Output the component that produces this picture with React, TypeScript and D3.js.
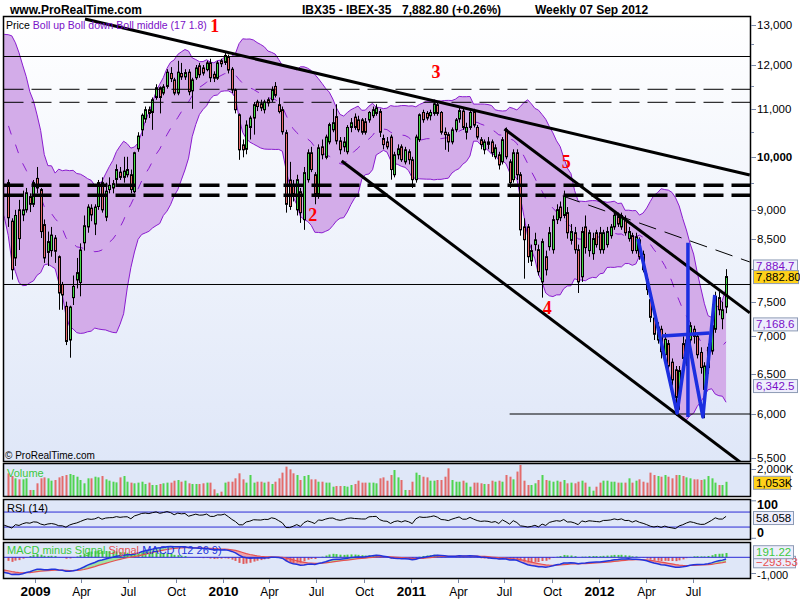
import React from "react";
import * as d3 from "d3";

// weekly closes Jan - early Nov 2008, only used to warm up the indicators
const warmupCloses = [
  14950, 14000, 13300, 13300, 12900, 13200, 13100, 12900, 12600, 12700, 12650,
  13200, 13550, 13300, 13400, 13650, 13800, 13500, 13700, 13300, 13350, 12750,
  12400, 12150, 11900, 11750, 11600, 11400, 11900, 11800, 12050, 11900, 11600,
  11700, 11000, 11250, 11100, 11300, 10200, 8900, 9800, 8800, 9400, 9500,
];

// weekly candles [open, high, low, close], first week starts 10 Nov 2008
const candles2008 = [
  [9500, 9560, 8700, 8860], [8800, 8850, 7835, 7990], [8180, 9000, 8050, 8900],
  [9000, 9180, 8310, 8500], [8910, 9350, 8800, 9000], [9000, 9400, 8950, 9310],
  [9240, 9300, 8960, 9100], [9100, 9550, 9050, 9500],
];
const candles2009 = [
  [9580, 9800, 9300, 9400], [9370, 9400, 8510, 8620], [8740, 8830, 8100, 8180],
  [8270, 8620, 8050, 8450], [8300, 8700, 8200, 8560], [8510, 8560, 8100, 8290],
  [8200, 8220, 7380, 7630], [7760, 7800, 7380, 7600], [7430, 7500, 6880, 6930],
  [6950, 7440, 6710, 7420], [7560, 7900, 7450, 7730], [7830, 8180, 7700, 7945],
  [7790, 8420, 7580, 8310], [8430, 8900, 8300, 8720], [8700, 9100, 8600, 9050],
  [9030, 9100, 8800, 8910], [8750, 9100, 8560, 9050], [9060, 9550, 9000, 9500],
  [9500, 9600, 8950, 9000], [8870, 9500, 8800, 9340], [9370, 9600, 9300, 9450],
  [9400, 9550, 9300, 9480], [9560, 9850, 9450, 9750], [9700, 9800, 9550, 9600],
  [9600, 10000, 9500, 9720], [9650, 10000, 9600, 9750], [9650, 9750, 9300, 9370],
  [9330, 10100, 9300, 10080], [10160, 10500, 10100, 10420], [10550, 10900, 10420, 10860],
  [10780, 11050, 10700, 10980], [10980, 11050, 10800, 10900], [10920, 11250, 10550, 11200],
  [11250, 11550, 11200, 11470], [11470, 11500, 10900, 11250], [11350, 11550, 11300, 11490],
  [11500, 11900, 11450, 11830], [11800, 11950, 11600, 11680], [11650, 11700, 11300, 11350],
  [11350, 12100, 11300, 11830], [11800, 12050, 11650, 11720], [11720, 11900, 11650, 11820],
  [11830, 11900, 11300, 11380], [11400, 11700, 11000, 11650], [11700, 12000, 11650, 11930],
  [11980, 12050, 11700, 11770], [11930, 12000, 11750, 11810], [11890, 12100, 11850, 12050],
  [12050, 12150, 11600, 11700], [11780, 11850, 11600, 11690], [11690, 12100, 11650, 12050],
  [12100, 12150, 11950, 12030],
];
const candles2010 = [
  [12060, 12300, 12000, 12230], [12200, 12250, 11800, 11880], [11900, 11950, 11350, 11420],
  [11420, 11450, 10900, 10980], [10870, 10900, 9940, 10140], [10240, 10350, 9990, 10140],
  [10150, 10750, 10050, 10650], [10600, 10850, 10350, 10800], [10800, 11150, 10450, 11090],
  [11150, 11200, 10950, 11050], [11110, 11200, 10950, 11020], [10980, 11200, 10900, 11150],
  [11200, 11250, 11050, 11130], [11200, 11500, 11150, 11425], [11500, 11600, 11250, 11300],
  [11090, 11250, 10900, 10940], [10980, 11050, 10450, 10510], [10490, 10550, 8950, 9100],
  [9550, 9900, 9000, 9060], [9450, 9550, 9150, 9280], [9000, 9650, 8900, 9556],
  [9330, 9400, 8770, 8950], [8826, 9800, 8650, 9690], [9556, 10150, 9500, 10080],
  [10080, 10200, 9700, 9750], [9650, 9700, 9100, 9280], [9280, 10250, 9200, 10180],
  [10200, 10350, 9950, 10040], [9990, 10450, 9950, 10400], [10300, 10700, 10250, 10660],
  [10550, 11000, 10500, 10700], [10830, 11100, 10250, 10320], [10320, 10400, 10050, 10140],
  [10200, 10400, 10100, 10300], [10100, 10650, 10050, 10600], [10600, 10800, 10500, 10700],
  [10820, 10900, 10550, 10600], [10760, 10850, 10500, 10550], [10760, 10800, 10450, 10500],
  [10720, 10800, 10450, 10500], [10760, 10950, 10700, 10920], [10850, 11050, 10800, 10980],
  [10900, 11100, 10850, 11020], [10940, 11000, 10400, 10500], [10370, 10450, 10150, 10245],
  [10300, 10400, 10150, 10200], [10400, 10450, 9556, 9750], [9650, 10100, 9600, 10040],
  [10040, 10250, 9950, 10160], [10200, 10250, 9900, 9942], [9900, 10200, 9850, 10140],
  [10100, 10150, 9850, 9942],
];
const candles2011 = [
  [9942, 10000, 9400, 9556], [9556, 10450, 9500, 10400], [10345, 10900, 10300, 10870],
  [10920, 10980, 10700, 10764], [10900, 10950, 10750, 10800], [10850, 10980, 10750, 10920],
  [10900, 11200, 10850, 11110], [11090, 11150, 10850, 10900], [10920, 10950, 10450, 10500],
  [10500, 10600, 10140, 10450], [10450, 10500, 10100, 10300], [10300, 10600, 10250, 10550],
  [10550, 10800, 10500, 10760], [10780, 11050, 10700, 10960], [10950, 11000, 10550, 10600],
  [10500, 10700, 10350, 10600], [10600, 10950, 10550, 10920], [10940, 11000, 10600, 10650],
  [10600, 10650, 10350, 10400], [10345, 10400, 10150, 10245], [10140, 10350, 10050, 10300],
  [10300, 10400, 10150, 10250], [10300, 10350, 10000, 10080], [10000, 10250, 9950, 10180],
  [10040, 10100, 9750, 9840], [9900, 10400, 9850, 10345], [10553, 10600, 9950, 10000],
  [9900, 9950, 9400, 9500], [9556, 10150, 9500, 10080], [10080, 10150, 9550, 9650],
  [9650, 9700, 8550, 8650], [8700, 8850, 7850, 8482], [8700, 8750, 8100, 8200],
  [8130, 8400, 8050, 8300], [8400, 8600, 8300, 8480], [8315, 8400, 7900, 7960],
  [7800, 8500, 7560, 8450], [8200, 8300, 7900, 7990], [8365, 8700, 8300, 8600],
  [8315, 8900, 8250, 8826], [8826, 9100, 8750, 9003], [9050, 9150, 8800, 8860],
  [8900, 9350, 8850, 9250], [8950, 9050, 8500, 8600], [8470, 8750, 8400, 8620],
  [8600, 8700, 8250, 8315], [8315, 8400, 7630, 7800], [7880, 8700, 7800, 8620],
  [8700, 8900, 8250, 8350], [8300, 8650, 8200, 8600], [8250, 8600, 8150, 8500],
  [8600, 8650, 8350, 8400],
];
const candles2012 = [
  [8600, 8700, 8250, 8315], [8315, 8650, 8250, 8600], [8400, 8700, 8350, 8620],
  [8550, 8750, 8500, 8700], [8700, 8950, 8650, 8900], [8880, 8950, 8700, 8750],
  [8700, 8950, 8650, 8900], [8850, 8900, 8550, 8600], [8500, 8700, 8450, 8620],
  [8550, 8600, 8250, 8300], [8300, 8600, 8250, 8530], [8480, 8520, 8150, 8200],
  [8240, 8300, 7950, 7990], [7835, 7900, 7600, 7680], [7530, 7600, 7200, 7270],
  [7260, 7300, 6950, 7030], [6950, 7200, 6900, 7130], [7100, 7150, 6700, 6790],
  [6750, 7050, 6700, 6960], [6900, 6950, 6500, 6600], [6650, 6700, 6350, 6420],
  [6550, 6600, 5980, 6200], [6200, 6600, 6050, 6540], [6900, 7000, 6600, 6700],
  [6700, 7000, 6600, 6950], [6950, 7200, 6850, 7150], [7100, 7150, 6900, 7000],
  [7000, 7050, 6700, 6750], [6780, 6850, 6500, 6580], [6300, 6650, 5950, 6600],
  [6580, 6900, 6500, 6850], [6800, 7200, 6750, 7150], [7100, 7650, 7050, 7580],
  [7560, 7650, 7300, 7380], [7250, 7500, 7100, 7380], [7420, 8000, 7330, 7883],
];

// weekly volume, thousands
const volume2008 = [1680, 1480, 1310, 1235, 1235, 1310, 445, 445];
const volume2009 = [
  940, 1310, 1380, 1310, 1135, 1185, 1380, 1480, 1555, 1630, 1555, 1430, 1185,
  940, 1310, 1310, 1430, 1380, 1480, 1235, 1135, 1060, 1010, 1380, 1480, 1060,
  990, 940, 990, 1060, 890, 990, 815, 815, 890, 940, 990, 990, 1135, 1185, 1060,
  1135, 940, 890, 890, 890, 940, 990, 990, 495, 200, 320,
];
const volume2010 = [
  990, 1060, 1060, 1310, 1680, 1235, 990, 1555, 990, 1060, 1060, 990, 1060, 890,
  1060, 1310, 1730, 2175, 1975, 1680, 1555, 1185, 1480, 1555, 1235, 1235, 1060,
  1060, 990, 990, 690, 740, 740, 740, 690, 815, 890, 1135, 990, 990, 990, 990,
  940, 1310, 1380, 1135, 1555, 1925, 1380, 1185, 445, 445,
];
const volume2011 = [
  1060, 1730, 1555, 1430, 1380, 1135, 1135, 1185, 1185, 1430, 2050, 1185, 1060,
  1060, 1135, 990, 690, 990, 990, 940, 890, 890, 1135, 1060, 1135, 1060, 1555,
  1430, 1235, 1810, 2300, 1135, 815, 815, 940, 1185, 1555, 1185, 1135, 1060, 1135,
  1060, 1185, 940, 990, 940, 1060, 1135, 990, 690, 395, 690,
];
const volume2012 = [
  990, 1135, 1135, 1060, 1060, 990, 990, 990, 1310, 990, 1135, 1235, 1060, 990,
  1730, 1555, 1480, 1430, 1555, 1430, 1310, 1555, 1555, 1480, 1380, 1310, 1235,
  1235, 1185, 1235, 1480, 1310, 990, 815, 815, 1053,
];

const priceTicks = [13000, 12000, 11000, 10000, 9000, 8500, 7500, 7000, 6500, 6000, 5500];
const priceMinorTicks = [12500, 11500, 10500, 9500, 8000];
const monthNames = ["Jan", "Feb", "Mar", "Apr", "May", "Jun", "Jul", "Aug", "Sep", "Oct", "Nov", "Dec"];

// drawings on the price panel (date, price)
const solidLevels = [12204, 7760];
const thinDashLevels = [11435, 11143];
const thickDashLevels = [9450, 9264];
const supportStart = "2011-07-11";
const supportPrice = 6000;
const trendFrom = ["2009-04-08", "2011-07-01", "2010-08-19"];
const trendFromPrice = [13150, 10568, 9917];
const trendTo = ["2012-10-19", "2012-10-19", "2012-09-30"];
const trendToPrice = [9645, 7334, 5455];
const dashTrendDates = ["2011-10-22", "2012-10-19"];
const dashTrendPrices = [9251, 8115];
const wDates = ["2012-03-16", "2012-05-31", "2012-06-21", "2012-07-20", "2012-08-12"];
const wPrices = [8494, 6011, 6991, 5965, 7600];
const neckDates = ["2012-05-02", "2012-08-02"];
const neckPrices = [7006, 7048];
const measureDate = "2012-06-21";
const measurePrices = [8432, 5965];
const waveNames = ["1", "2", "3", "4", "5"];
const waveDates = ["2009-12-16", "2010-06-24", "2011-02-18", "2011-09-22", "2011-10-29"];
const wavePrices = [12966, 8900, 11836, 7400, 9897];

// last values printed on the right axis
const lastBollUp = 7884.7;
const lastClose = 7882.8;
const lastBollMid = 7168.6;
const lastBollLow = 6342.5;
const lastVolume = 1053;
const lastRsi = 58.058;
const lastHist = 191.22;
const lastSignal = -293.53;

const BOLL_N = 17;
const BOLL_K = 1.8;
const FONT = "Liberation Sans, Arial, sans-serif";
const GREEN = "#46d946";
const RED = "#e86c6c";
const PURPLE = "#8a1ccf";

const L = 3.5;
const R = 750.5;
const MAIN = [16.5, 461.5];
const VOL = [463.5, 496.5];
const RSIP = [499.5, 539.5];
const MACDP = [542.5, 578.5];

const parse = d3.timeParse("%Y-%m-%d");
const firstWeek = new Date(2008, 10, 10);

function ema(values, period) {
  const k = 2 / (period + 1);
  let e = values[0];
  return values.map((v, i) => (i === 0 ? e : (e = v * k + e * (1 - k))));
}

function ValueBox({ cy, text, fill, color, width = 44, height = 13 }) {
  return (
    <g>
      <rect x={753.5} y={cy - height / 2} width={width} height={height} fill={fill} stroke="#8d9bb5" />
      <text x={756} y={cy + 4} fontSize={11.5} fill={color} fontFamily={FONT}>{text}</text>
    </g>
  );
}

export default function App() {
  const candles = [...candles2008, ...candles2009, ...candles2010, ...candles2011, ...candles2012];
  const volumes = [...volume2008, ...volume2009, ...volume2010, ...volume2011, ...volume2012];
  const dates = candles.map((_, i) => d3.timeWeek.offset(firstWeek, i));
  const warmDates = warmupCloses.map((_, i) => d3.timeWeek.offset(firstWeek, i - warmupCloses.length));
  const allDates = warmDates.concat(dates);
  const allCloses = warmupCloses.concat(candles.map((c) => c[3]));
  const nWarm = warmupCloses.length;

  const x = d3.scaleTime().domain([new Date(2009, 0, 1), new Date(2012, 0, 1)]).range([35, 599.3]);
  const y = d3.scaleLog().domain([6000, 13000]).range([414, 24.7]);
  const volY = d3.scaleLinear().domain([0, 2000]).range([496, 469]);
  const rsiY = d3.scaleLinear().domain([0, 100]).range([538.3, 500.8]);
  const macdY = d3.scaleLinear().domain([-1000, 0]).range([573.5, 557.3]);
  const histY = d3.scaleLinear().domain([0, lastHist]).range([557.3, 552.7]);

  // Bollinger bands
  const bands = [];
  for (let i = BOLL_N - 1; i < allCloses.length; i++) {
    const win = allCloses.slice(i - BOLL_N + 1, i + 1);
    const m = d3.mean(win);
    const sd = Math.sqrt(d3.mean(win, (v) => (v - m) ** 2));
    bands.push({ date: allDates[i], mid: m, up: m + BOLL_K * sd, lo: m - BOLL_K * sd });
  }
  const bandArea = d3.area().x((d) => x(d.date)).y0((d) => y(d.lo)).y1((d) => y(d.up));
  const bandLine = (key) => d3.line().x((d) => x(d.date)).y((d) => y(d[key]))(bands);

  // RSI 14 (Wilder)
  const rsi = [];
  let avgG = 0;
  let avgL = 0;
  for (let i = 1; i < allCloses.length; i++) {
    const ch = allCloses[i] - allCloses[i - 1];
    const g = Math.max(ch, 0);
    const l = Math.max(-ch, 0);
    if (i <= 14) {
      avgG += g / 14;
      avgL += l / 14;
    } else {
      avgG = (avgG * 13 + g) / 14;
      avgL = (avgL * 13 + l) / 14;
    }
    if (i >= 14) rsi.push({ date: allDates[i], v: 100 - 100 / (1 + avgG / avgL) });
  }
  const rsiPath = d3.line().x((d) => x(d.date)).y((d) => rsiY(d.v))(rsi);

  // MACD 12 26 9
  const e12 = ema(allCloses, 12);
  const e26 = ema(allCloses, 26);
  const macd = e12.map((v, i) => v - e26[i]);
  const signal = ema(macd, 9);
  const macdRows = allDates.map((date, i) => ({ date, m: macd[i], s: signal[i] }));
  const upArea = d3.area().x((d) => x(d.date)).y0((d) => macdY(d.s)).y1((d) => macdY(Math.max(d.m, d.s)))(macdRows);
  const dnArea = d3.area().x((d) => x(d.date)).y0((d) => macdY(d.s)).y1((d) => macdY(Math.min(d.m, d.s)))(macdRows);
  const macdPath = d3.line().x((d) => x(d.date)).y((d) => macdY(d.m))(macdRows);
  const sigPath = d3.line().x((d) => x(d.date)).y((d) => macdY(d.s))(macdRows);

  const xTicks = d3.timeMonth.every(3).range(new Date(2009, 0, 1), new Date(2012, 7, 1));

  const pt = (date, price) => [x(parse(date)), y(price)];
  const wPath = d3.line()(wDates.map((d, i) => pt(d, wPrices[i])));

  return (
    <svg width={800} height={600} style={{ position: "absolute", left: 0, top: 0, background: "#fff" }} fontFamily={FONT}>
      <defs>
        <linearGradient id="mainBg" x1="0" y1="0" x2="0" y2="1">
          <stop offset="0%" stopColor="#ffffff" />
          <stop offset="100%" stopColor="#dfe7f8" />
        </linearGradient>
        <clipPath id="clipMain"><rect x={L} y={MAIN[0]} width={R - L} height={MAIN[1] - MAIN[0]} /></clipPath>
        <clipPath id="clipRsi"><rect x={L} y={RSIP[0]} width={R - L} height={RSIP[1] - RSIP[0]} /></clipPath>
        <clipPath id="clipMacd"><rect x={L} y={MACDP[0]} width={R - L} height={MACDP[1] - MACDP[0]} /></clipPath>
      </defs>

      {/* header */}
      <text x={10} y={14} fontSize={12} fontWeight="bold">www.ProRealTime.com</text>
      <text x={302} y={14} fontSize={12} fontWeight="bold">IBX35 - IBEX-35</text>
      <text x={402} y={14} fontSize={12} fontWeight="bold">7,882.80 (+0.26%)</text>
      <text x={535} y={14} fontSize={12} fontWeight="bold">Weekly  07 Sep 2012</text>

      {/* panel backgrounds */}
      <rect x={L} y={MAIN[0]} width={R - L} height={MAIN[1] - MAIN[0]} fill="url(#mainBg)" />
      <rect x={L} y={VOL[0]} width={R - L} height={VOL[1] - VOL[0]} fill="#dfe7f8" />
      <rect x={L} y={RSIP[0]} width={R - L} height={RSIP[1] - RSIP[0]} fill="#dfe7f8" />
      <rect x={L} y={MACDP[0]} width={R - L} height={MACDP[1] - MACDP[0]} fill="#dfe7f8" />

      {/* price panel */}
      <g clipPath="url(#clipMain)">
        <path d={bandArea(bands)} fill="#d3ace9" />
        <path d={bandLine("up")} fill="none" stroke={PURPLE} strokeWidth={1} />
        <path d={bandLine("lo")} fill="none" stroke={PURPLE} strokeWidth={1} />
        <path d={bandLine("mid")} fill="none" stroke={PURPLE} strokeWidth={1} strokeDasharray="9,11" />

        {candles.map(([o, h, l, c], i) => {
          const cx = Math.round(x(dates[i])) + 0.5;
          const top = y(Math.max(o, c));
          const bot = y(Math.min(o, c));
          return (
            <g key={i}>
              <line x1={cx} x2={cx} y1={y(Math.max(h, o, c))} y2={y(Math.min(l, o, c))} stroke="#000" />
              <rect x={cx - 1} y={top} width={2} height={Math.max(1, bot - top)} fill={c >= o ? GREEN : RED} stroke="#000" />
            </g>
          );
        })}

        {solidLevels.map((p) => (
          <line key={p} x1={L} x2={R} y1={y(p)} y2={y(p)} stroke="#000" strokeWidth={1} />
        ))}
        {thinDashLevels.map((p) => (
          <line key={p} x1={L} x2={R} y1={y(p)} y2={y(p)} stroke="#000" strokeWidth={1} strokeDasharray="20,8" />
        ))}
        {thickDashLevels.map((p) => (
          <line key={p} x1={L} x2={R} y1={y(p)} y2={y(p)} stroke="#000" strokeWidth={3.5} strokeDasharray="20,8" />
        ))}
        <line x1={x(parse(supportStart))} x2={R} y1={y(supportPrice)} y2={y(supportPrice)} stroke="#000" />
        {trendFrom.map((d, i) => {
          const [x1, y1] = pt(d, trendFromPrice[i]);
          const [x2, y2] = pt(trendTo[i], trendToPrice[i]);
          return <line key={d} x1={x1} y1={y1} x2={x2} y2={y2} stroke="#000" strokeWidth={3} />;
        })}
        {(() => {
          const [x1, y1] = pt(dashTrendDates[0], dashTrendPrices[0]);
          const [x2, y2] = pt(dashTrendDates[1], dashTrendPrices[1]);
          return <line x1={x1} y1={y1} x2={x2} y2={y2} stroke="#000" strokeWidth={1} strokeDasharray="18,9" />;
        })()}

        {/* W pattern */}
        <path d={wPath} fill="none" stroke="#1c2fe0" strokeWidth={3.5} strokeLinejoin="round" />
        {(() => {
          const [x1, y1] = pt(neckDates[0], neckPrices[0]);
          const [x2, y2] = pt(neckDates[1], neckPrices[1]);
          const [mx, my1] = pt(measureDate, measurePrices[0]);
          const [, my2] = pt(measureDate, measurePrices[1]);
          return (
            <g stroke="#1c2fe0" strokeWidth={3.5}>
              <line x1={x1} y1={y1} x2={x2} y2={y2} />
              <line x1={mx} y1={my1} x2={mx} y2={my2} />
            </g>
          );
        })()}

        {waveNames.map((name, i) => {
          const [tx, ty] = pt(waveDates[i], wavePrices[i]);
          return (
            <text key={name} x={tx} y={ty + 6} textAnchor="middle" fontSize={18} fontWeight="bold"
              fontFamily="Liberation Serif, Times New Roman, serif" fill="#ff0000">{name}</text>
          );
        })}
      </g>
      <text x={6} y={29} fontSize={10.5}>
        <tspan fill="#000">Price </tspan>
        <tspan fill="#7a10c8">Boll up Boll down Boll middle (17 1.8)</tspan>
      </text>
      <text x={5} y={459} fontSize={10}>© ProRealTime.com</text>

      {/* volume panel */}
      {volumes.map((v, i) => {
        const [o, , , c] = candles[i];
        const bx = Math.round(x(dates[i]));
        return <rect key={i} x={bx - 0.5} y={volY(v)} width={2} height={volY(0) - volY(v)} fill={c >= o ? "#4fd44f" : "#e36b6b"} />;
      })}
      <text x={7} y={476.5} fontSize={11} fill="#3cc83c">Volume</text>

      {/* RSI panel */}
      <g clipPath="url(#clipRsi)">
        {[70, 30].map((v) => (
          <line key={v} x1={L} x2={R} y1={rsiY(v)} y2={rsiY(v)} stroke="#2a2ad6" strokeWidth={1} />
        ))}
        <path d={rsiPath} fill="none" stroke="#000" strokeWidth={1} />
      </g>
      <text x={7} y={511.5} fontSize={11}>RSI (14)</text>

      {/* MACD panel */}
      <g clipPath="url(#clipMacd)">
        <path d={upArea} fill="#9fe3a6" />
        <path d={dnArea} fill="#eea3a8" />
        {macdRows.slice(nWarm).map((d, i) => {
          const diff = d.m - d.s;
          const bx = Math.round(x(d.date));
          const y0 = histY(0);
          const y1 = histY(diff);
          return <rect key={i} x={bx - 0.5} y={Math.min(y0, y1)} width={2} height={Math.abs(y1 - y0)} fill={diff >= 0 ? "#44cc44" : "#e05a5a"} />;
        })}
        <line x1={L} x2={R} y1={macdY(0)} y2={macdY(0)} stroke="#2a2ad6" />
        <path d={sigPath} fill="none" stroke="#e65050" strokeWidth={1.2} />
        <path d={macdPath} fill="none" stroke="#2233dd" strokeWidth={1.5} />
      </g>
      <text x={7} y={554} fontSize={11}>
        <tspan fill="#3cc83c">MACD minus Signal </tspan>
        <tspan fill="#e65050">Signal </tspan>
        <tspan fill="#2233dd">MACD (12 26 9)</tspan>
      </text>

      {/* panel borders */}
      {[MAIN, VOL, RSIP, MACDP].map((p, i) => (
        <rect key={i} x={L} y={p[0]} width={R - L} height={p[1] - p[0]} fill="none" stroke="#000" strokeWidth={1.5} />
      ))}

      {/* right price axis */}
      <g stroke="#7887a6">
        {priceTicks.concat(priceMinorTicks).map((p) => (
          <line key={p} x1={751} x2={priceTicks.includes(p) ? 756 : 754} y1={Math.round(y(p)) + 0.5} y2={Math.round(y(p)) + 0.5} />
        ))}
      </g>
      {priceTicks.map((p) => (
        <text key={p} x={757} y={y(p) + 4} fontSize={11.5} fontWeight={p === 10000 ? "bold" : "normal"}>
          {d3.format(",")(p)}
        </text>
      ))}
      <ValueBox cy={y(lastBollUp) - 10} text={d3.format(",.1f")(lastBollUp)} fill="#eeeefc" color="#7a10c8" />
      <ValueBox cy={y(lastClose) + 0.5} text={d3.format(",.2f")(lastClose)} fill="#ffd21a" color="#000" width={45} />
      <ValueBox cy={y(lastBollMid)} text={d3.format(",.1f")(lastBollMid)} fill="#eeeefc" color="#7a10c8" />
      <ValueBox cy={y(lastBollLow)} text={d3.format(",.1f")(lastBollLow)} fill="#eeeefc" color="#7a10c8" />

      {/* indicator axes */}
      <g stroke="#7887a6">
        <line x1={751} x2={756} y1={469.5} y2={469.5} />
        <line x1={751} x2={756} y1={rsiY(100)} y2={rsiY(100)} />
        <line x1={751} x2={756} y1={rsiY(0)} y2={rsiY(0)} />
        <line x1={751} x2={756} y1={macdY(-1000)} y2={macdY(-1000)} />
      </g>
      <text x={757} y={volY(2000) + 4} fontSize={11.5}>2,000K</text>
      <ValueBox cy={volY(lastVolume) + 1} text={d3.format(",")(lastVolume) + "K"} fill="#ffd21a" color="#000" width={37} />
      <text x={757} y={rsiY(100) + 8} fontSize={12.5} fontWeight="bold">100</text>
      <ValueBox cy={rsiY(lastRsi) + 1.5} text={d3.format(".3f")(lastRsi)} fill="#eeeefc" color="#000" width={40} />
      <text x={757} y={rsiY(0) - 1} fontSize={12.5} fontWeight="bold">0</text>
      <text x={757} y={macdY(-1000) + 5} fontSize={11}>-1,000</text>
      <ValueBox cy={macdY(lastSignal)} text={d3.format(".2f")(lastSignal)} fill="#eeeefc" color="#e65050" width={42} height={11.5} />
      <ValueBox cy={histY(lastHist) - 0.5} text={d3.format(".2f")(lastHist)} fill="#eeeefc" color="#3cc83c" width={40} />

      {/* time axis */}
      {xTicks.map((d) => {
        const tx = Math.round(x(d)) + 0.5;
        const isYear = d.getMonth() === 0;
        return (
          <g key={+d}>
            <line x1={tx} x2={tx} y1={579} y2={583} stroke="#7887a6" />
            <text x={tx} y={596} textAnchor="middle" fontSize={isYear ? 13.5 : 12} fontWeight={isYear ? "bold" : "normal"}>
              {isYear ? d.getFullYear() : monthNames[d.getMonth()]}
            </text>
          </g>
        );
      })}
    </svg>
  );
}
